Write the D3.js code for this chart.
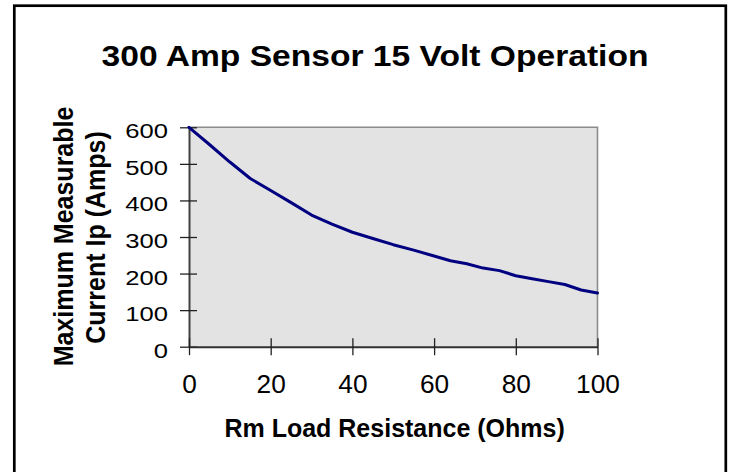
<!DOCTYPE html>
<html><head><meta charset="utf-8">
<script src="https://cdn.jsdelivr.net/npm/d3@7"></script>
<style>body{margin:0;background:#fff} svg{display:block}</style>
</head><body>
<svg id="c" width="739" height="472"></svg>
<script>
const resistance = [0, 5, 10, 15, 20, 25, 30, 35, 40, 45, 50, 55, 60, 64, 68, 72, 76, 80, 84, 88, 92, 96, 100];
const current    = [600, 553, 505, 460, 427, 394, 360, 335, 313, 296, 279, 264, 248, 235, 227, 215, 208, 194, 186, 178, 170, 155, 147];
const xTicks = [0, 20, 40, 60, 80, 100];
const yTicks = [0, 100, 200, 300, 400, 500, 600];
const titleText = "300 Amp Sensor 15 Volt Operation";
const xLabel = "Rm Load Resistance (Ohms)";
const yLabel = ["Maximum Measurable", "Current Ip (Amps)"];

const font = "'Liberation Sans', Arial, sans-serif";
const svg = d3.select("#c");
svg.append("rect").attr("width", 739).attr("height", 472).attr("fill", "#fff");
svg.append("rect").attr("x", 14.3).attr("y", 5.7).attr("width", 711.5).attr("height", 490)
  .attr("fill", "none").attr("stroke", "#000").attr("stroke-width", 2.7);

const x = d3.scaleLinear().domain([0, 100]).range([189, 597.5]);
const y = d3.scaleLinear().domain([0, 600]).range([346.7, 127.3]);

// plot area
svg.append("rect").attr("x", x(0)).attr("y", y(600))
  .attr("width", x(100) - x(0)).attr("height", y(0) - y(600)).attr("fill", "#e3e3e3");
svg.append("path").attr("d", `M${x(0)},${y(600)}H${x(100)}V${y(0)}`)
  .attr("fill", "none").attr("stroke", "#8c8c8c").attr("stroke-width", 1.6);

// y axis
const gy = svg.append("g").attr("transform", `translate(${x(0)},0)`)
  .call(d3.axisLeft(y).tickValues(yTicks).tickSize(9).tickSizeOuter(0));
gy.attr("font-family", font).attr("font-size", 21);
gy.select(".domain").attr("stroke", "#404040").attr("stroke-width", 2);
gy.selectAll(".tick line").attr("x1", 8).attr("stroke", "#222").attr("stroke-width", 1.3);
gy.selectAll(".tick text").attr("x", 0).attr("dy", null).attr("fill", "#000")
  .attr("text-anchor", "end").attr("transform", "translate(-21,10.5) scale(1.22,1)");

// x axis
const gx = svg.append("g").attr("transform", `translate(0,${y(0)})`)
  .call(d3.axisBottom(x).tickValues(xTicks).tickSize(8.5).tickSizeOuter(0));
gx.attr("font-family", font).attr("font-size", 25);
gx.select(".domain").attr("stroke", "#303030").attr("stroke-width", 2);
gx.selectAll(".tick line").attr("y1", -8.5).attr("stroke", "#222").attr("stroke-width", 1.3);
gx.selectAll(".tick text").attr("y", 0).attr("dy", null).attr("fill", "#000")
  .attr("transform", "translate(0,46) scale(1.05,1)");

// series line
svg.append("path").datum(resistance.map((r, i) => [r, current[i]]))
  .attr("d", d3.line().x(d => x(d[0])).y(d => y(d[1])))
  .attr("fill", "none").attr("stroke", "#000080").attr("stroke-width", 3)
  .attr("stroke-linejoin", "round").attr("stroke-linecap", "round");

// title
svg.append("text").attr("transform", "translate(375,66) scale(1.12,1)")
  .attr("text-anchor", "middle").attr("font-family", font).attr("font-weight", "bold")
  .attr("font-size", 30).attr("fill", "#000").text(titleText);

// x label
svg.append("text").attr("transform", "translate(394.6,436.5)")
  .attr("text-anchor", "middle").attr("font-family", font).attr("font-weight", "bold")
  .attr("font-size", 25).attr("fill", "#000").text(xLabel);

// y label (two lines)
const yLabelPos = [[73.3, 236.5], [105, 237.5]];
yLabel.forEach((t, i) => {
  svg.append("text")
    .attr("transform", `translate(${yLabelPos[i][0]},${yLabelPos[i][1]}) scale(1.12,1) rotate(-90)`)
    .attr("text-anchor", "middle").attr("font-family", font).attr("font-weight", "bold")
    .attr("font-size", 25).attr("fill", "#000").text(t);
});
</script>
</body></html>
